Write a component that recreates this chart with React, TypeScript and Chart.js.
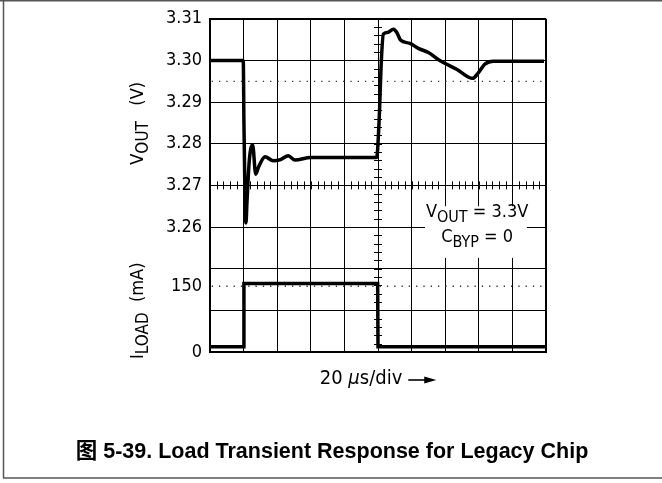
import React, { useEffect, useRef } from "react";
import { Chart, registerables } from "chart.js";

Chart.register(...registerables);

// ---- data (time in µs, 20 µs per division) ----
const T_V = [0, 19.8, 20.2, 20.8, 21.4, 22.0, 23.4, 25.4, 27.2, 29.0, 32.8, 37.6, 42.0, 46.6, 50.6, 60.0, 99.2, 100.6, 102.0, 103.2, 105.6, 109.2, 111.2, 113.4, 119.0, 124.0, 130.0, 137.0, 146.8, 156.4, 159.8, 163.6, 168.6, 198.8];
const V_OUT = [3.300, 3.300, 3.285, 3.268, 3.261, 3.266, 3.276, 3.2797, 3.2727, 3.2745, 3.2769, 3.2759, 3.2762, 3.2771, 3.2761, 3.2767, 3.2767, 3.285, 3.300, 3.3063, 3.3067, 3.3075, 3.3067, 3.3049, 3.3041, 3.3029, 3.3019, 3.2999, 3.2979, 3.2957, 3.2971, 3.2991, 3.2998, 3.2998];

const T_I = [0, 20.0, 20.2, 99.8, 100.0, 200];
const I_LOAD = [12, 12, 156, 156, 12, 12];

const V_MIN = 3.23;
const V_MAX = 3.31;
const V_STEP = 0.01;
const V_TICK_LABELED_MIN = 3.26;
const I_MAX = 760;
const I_TICKS = [0, 150];
const V_REF = 3.295;
const I_REF = 150;
const CENTER_T = 100;
const CENTER_V = 3.27;

const ANNOT_LINE1 = [{ t: "V" }, { t: "OUT", sub: true }, { t: " = 3.3V" }];
const ANNOT_LINE2 = [{ t: "C" }, { t: "BYP", sub: true }, { t: " = 0" }];
const Y_TITLE_V = [{ t: "V" }, { t: "OUT", sub: true }, { t: "   (V)" }];
const Y_TITLE_I = [{ t: "I" }, { t: "LOAD", sub: true }, { t: "  (mA)" }];
const X_LABEL = "20";
const X_LABEL_UNIT = "s/div";
const CAPTION = "图 5-39. Load Transient Response for Legacy Chip";

const FONT = '"DejaVu Sans Condensed", "DejaVu Sans", sans-serif';

const iToV = (mA: number) => V_MIN + (mA / I_MAX) * (V_MAX - V_MIN);
const isGrid = (v: number) => Math.abs(v / V_STEP - Math.round(v / V_STEP)) < 1e-6;

type Part = { t: string; sub?: boolean };

function drawRich(ctx: CanvasRenderingContext2D, parts: Part[], cx: number, cy: number, size: number, subSize: number) {
  const main = `${size}px ${FONT}`;
  const sub = `${subSize}px ${FONT}`;
  let w = 0;
  for (const p of parts) {
    ctx.font = p.sub ? sub : main;
    w += ctx.measureText(p.t).width;
  }
  let x = cx - w / 2;
  ctx.textAlign = "left";
  ctx.textBaseline = "middle";
  for (const p of parts) {
    ctx.font = p.sub ? sub : main;
    ctx.fillText(p.t, x, cy + (p.sub ? size * 0.3 : 0));
    x += ctx.measureText(p.t).width;
  }
}

const scopePlugin = {
  id: "scope",
  beforeDatasetsDraw(chart: any) {
    const { ctx, scales } = chart;
    const x = scales.x;
    const y = scales.y;
    ctx.save();
    ctx.strokeStyle = "#000";
    ctx.lineWidth = 1;
    // minor ticks on horizontal centre line
    const yc = y.getPixelForValue(CENTER_V);
    for (let t = 0; t <= 200.001; t += 4) {
      const px = Math.round(x.getPixelForValue(t)) + 0.5;
      ctx.beginPath();
      ctx.moveTo(px, yc - 4);
      ctx.lineTo(px, yc + 4);
      ctx.stroke();
    }
    // minor ticks on vertical centre line
    const xc = x.getPixelForValue(CENTER_T);
    for (let v = V_MIN; v <= V_MAX + 1e-5; v += 0.002) {
      const py = Math.round(y.getPixelForValue(v)) + 0.5;
      ctx.beginPath();
      ctx.moveTo(xc - 4, py);
      ctx.lineTo(xc + 4, py);
      ctx.stroke();
    }
    // annotation box
    const bx1 = x.getPixelForValue(128);
    const bx2 = x.getPixelForValue(188.6);
    const by1 = y.getPixelForValue(3.265);
    const by2 = y.getPixelForValue(3.2526);
    ctx.fillStyle = "#fff";
    ctx.fillRect(bx1, by1, bx2 - bx1, by2 - by1);
    ctx.fillStyle = "#000";
    const acx = x.getPixelForValue(159);
    drawRich(ctx, ANNOT_LINE1, acx, y.getPixelForValue(3.2635), 18, 16);
    drawRich(ctx, ANNOT_LINE2, acx, y.getPixelForValue(3.2575), 18, 16);
    ctx.restore();
  },
  afterDraw(chart: any) {
    const { ctx, width, chartArea } = chart;
    ctx.save();
    ctx.fillStyle = "#000";
    // y titles
    const yv = chart.scales.y;
    ctx.save();
    ctx.translate(138, yv.getPixelForValue(3.2849));
    ctx.rotate(-Math.PI / 2);
    drawRich(ctx, Y_TITLE_V, 0, 0, 18, 17);
    ctx.restore();
    ctx.save();
    ctx.translate(138, yv.getPixelForValue(3.2399));
    ctx.rotate(-Math.PI / 2);
    drawRich(ctx, Y_TITLE_I, 0, 0, 18, 17);
    ctx.restore();
    // x label with arrow
    const lx = (chartArea.left + chartArea.right) / 2;
    const ly = chartArea.bottom + 27;
    const f = `20px ${FONT}`;
    const fi = `italic 20px ${FONT}`;
    ctx.font = f;
    const w1 = ctx.measureText(X_LABEL + " ").width;
    ctx.font = fi;
    const w2 = ctx.measureText("μ").width;
    ctx.font = f;
    const w3 = ctx.measureText(X_LABEL_UNIT).width;
    const gap = 6;
    const arrowW = 28;
    const total = w1 + w2 + w3 + gap + arrowW;
    let sx = lx - total / 2;
    ctx.textAlign = "left";
    ctx.textBaseline = "middle";
    ctx.font = f;
    ctx.fillText(X_LABEL, sx, ly);
    sx += w1;
    ctx.font = fi;
    ctx.fillText("μ", sx, ly);
    sx += w2;
    ctx.font = f;
    ctx.fillText(X_LABEL_UNIT, sx, ly);
    sx += w3 + gap;
    ctx.strokeStyle = "#000";
    ctx.lineWidth = 1.6;
    ctx.beginPath();
    ctx.moveTo(sx, ly + 1);
    ctx.lineTo(sx + arrowW - 8, ly + 1);
    ctx.stroke();
    ctx.beginPath();
    ctx.moveTo(sx + arrowW, ly + 1);
    ctx.lineTo(sx + arrowW - 12, ly - 2.5);
    ctx.lineTo(sx + arrowW - 12, ly + 4.5);
    ctx.closePath();
    ctx.fill();
    // caption
    ctx.font = 'bold 21.5px "Liberation Sans", Arial, "Noto Sans CJK SC", sans-serif';
    ctx.textAlign = "center";
    ctx.fillText(CAPTION, 332, 452);
    // frame
    ctx.strokeStyle = "#555";
    ctx.lineWidth = 1.5;
    ctx.beginPath();
    ctx.moveTo(0, 0.75);
    ctx.lineTo(width, 0.75);
    ctx.moveTo(3.5, 0);
    ctx.lineTo(3.5, 478);
    ctx.moveTo(3, 478);
    ctx.lineTo(width, 478);
    ctx.stroke();
    ctx.restore();
  },
};

export default function App() {
  const ref = useRef<HTMLCanvasElement>(null);
  useEffect(() => {
    if (!ref.current) return;
    const chart = new Chart(ref.current, {
      type: "line",
      data: {
        datasets: [
          {
            label: "VOUT",
            data: T_V.map((t, i) => ({ x: t, y: V_OUT[i] })),
            borderColor: "#000",
            borderWidth: 3.5,
            pointRadius: 0,
            cubicInterpolationMode: "monotone",
            yAxisID: "y",
          },
          {
            label: "ILOAD",
            data: T_I.map((t, i) => ({ x: t, y: I_LOAD[i] })),
            borderColor: "#000",
            borderWidth: 3.5,
            pointRadius: 0,
            tension: 0,
            yAxisID: "y2",
          },
          {
            label: "ref V",
            data: [{ x: 1, y: V_REF }, { x: 199, y: V_REF }],
            borderColor: "#333",
            borderWidth: 1.3,
            borderDash: [1.3, 6],
            pointRadius: 0,
            yAxisID: "y",
          },
          {
            label: "ref I",
            data: [{ x: 1, y: I_REF }, { x: 199, y: I_REF }],
            borderColor: "#333",
            borderWidth: 1.3,
            borderDash: [1.3, 6],
            pointRadius: 0,
            yAxisID: "y2",
          },
        ],
      },
      options: {
        animation: false,
        responsive: false,
        events: [],
        layout: { padding: { top: 16, right: 116, left: 0, bottom: 0 } },
        plugins: { legend: { display: false }, tooltip: { enabled: false }, title: { display: false } },
        scales: {
          x: {
            type: "linear",
            min: 0,
            max: 200,
            ticks: { stepSize: 20, display: false },
            grid: {
              color: "#000",
              lineWidth: (c: any) => (c.tick && Math.abs(c.tick.value - 200) < 1e-9 ? 2 : 1),
              drawTicks: false,
            },
            border: { color: "#000", width: 2 },
            afterFit: (s: any) => { s.height = 131; },
          },
          y: {
            type: "linear",
            position: "left",
            min: V_MIN,
            max: V_MAX,
            afterBuildTicks: (s: any) => {
              const ticks: { value: number }[] = [];
              const n = Math.round((V_MAX - V_MIN) / V_STEP);
              for (let k = 0; k <= n; k++) ticks.push({ value: +(V_MIN + k * V_STEP).toFixed(4) });
              I_TICKS.forEach((mA) => {
                const v = iToV(mA);
                if (!ticks.some((t) => Math.abs(t.value - v) < 1e-9)) ticks.push({ value: v });
              });
              ticks.sort((a, b) => a.value - b.value);
              s.ticks = ticks;
            },
            ticks: {
              autoSkip: false,
              padding: 8,
              color: "#000",
              font: { family: FONT, size: 18 },
              callback: (v: any) => {
                const val = Number(v);
                const iHit = I_TICKS.find((mA) => Math.abs(iToV(mA) - val) < 1e-6);
                if (iHit !== undefined) return String(iHit);
                if (isGrid(val) && val >= V_TICK_LABELED_MIN - 1e-6) return val.toFixed(2);
                return "";
              },
            },
            grid: {
              color: (c: any) => (c.tick && isGrid(c.tick.value) ? "#000" : "rgba(0,0,0,0)"),
              lineWidth: (c: any) => (c.tick && Math.abs(c.tick.value - V_MAX) < 1e-9 ? 2 : 1),
              drawTicks: false,
            },
            border: { color: "#000", width: 2 },
            afterFit: (s: any) => { s.width = 210; },
          },
          y2: {
            type: "linear",
            display: false,
            min: 0,
            max: I_MAX,
          },
        },
      },
      plugins: [scopePlugin],
    } as any);
    return () => chart.destroy();
  }, []);
  return (
    <div style={{ position: "absolute", left: 0, top: 0, width: 662, height: 483, background: "#fff" }}>
      <canvas ref={ref} width={662} height={483} style={{ display: "block" }} />
    </div>
  );
}
